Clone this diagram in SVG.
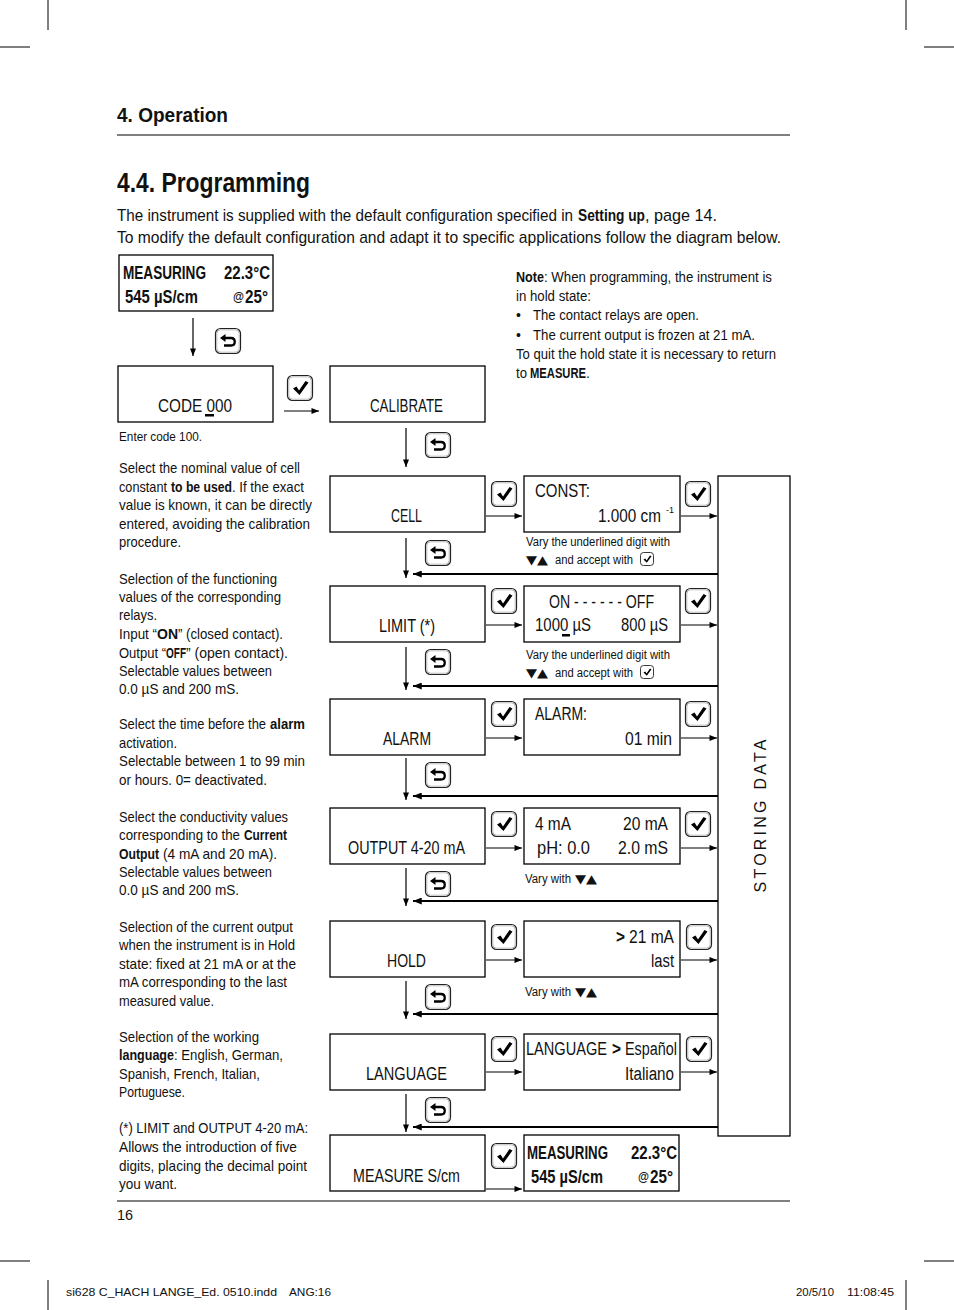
<svg xmlns="http://www.w3.org/2000/svg" xmlns:xlink="http://www.w3.org/1999/xlink" width="954" height="1310" viewBox="0 0 954 1310">
<style>
.f{font-family:"Liberation Sans",Arial,sans-serif;fill:#111}
.b{font-weight:bold}
.box{fill:#fff;stroke:#000;stroke-width:1.3}
.ln{stroke:#000;stroke-width:1.2;fill:none}
.ret{stroke:#000;stroke-width:2.2;fill:none}
.dot{stroke:#333;stroke-width:1;stroke-dasharray:1 2;fill:none}
.crop{stroke:#000;stroke-width:1}
.bt{font-size:18px}
.side{font-size:15px}
.cap{font-size:12.5px}
.tri{font-family:"DejaVu Sans",sans-serif;font-size:12px;fill:#111}
.ft{font-family:"Liberation Sans",Arial,sans-serif;font-size:11px;fill:#111}
</style>
<defs>
<marker id="ah" viewBox="0 0 10 8" refX="10" refY="4" markerWidth="8" markerHeight="6" markerUnits="userSpaceOnUse" orient="auto"><path d="M0,0 L10,4 L0,8 Z" fill="#000"/></marker>
<marker id="ahr" viewBox="0 0 10 8" refX="10" refY="4" markerWidth="9" markerHeight="7" markerUnits="userSpaceOnUse" orient="auto"><path d="M0,0 L10,4 L0,8 Z" fill="#000"/></marker>
<g id="chk">
<rect x="0.5" y="0.5" width="25" height="25" rx="5" fill="#fff" stroke="#222" stroke-width="1.2"/>
<rect x="1.8" y="1.8" width="22.4" height="22.4" rx="4" fill="none" stroke="#aaa" stroke-width="0.8"/>
<path d="M6,13.5 L9.5,11.5 L12,15.5 L18.5,6 L21.5,7.5 L12.5,20 Z" fill="#000"/>
</g>
<g id="bk">
<rect x="0.5" y="0.5" width="25" height="25" rx="5" fill="#fff" stroke="#222" stroke-width="1.2"/>
<rect x="1.8" y="1.8" width="22.4" height="22.4" rx="4" fill="none" stroke="#aaa" stroke-width="0.8"/>
<path d="M10,10 L16,10 C21,10 21,17.5 16,17.5 L9,17.5" fill="none" stroke="#000" stroke-width="2.3"/>
<path d="M5,10 L10.5,6 L10.5,14 Z" fill="#000"/>
</g>
<g id="chs">
<rect x="0.5" y="0.5" width="13" height="13" rx="3" fill="#fff" stroke="#222" stroke-width="0.9"/>
<path d="M3.5,7.5 L5.3,6.5 L6.6,8.6 L10,3.5 L11.5,4.3 L6.8,10.8 Z" fill="#000"/>
</g>
</defs>

<g id="cropmarks">
<line class="crop" x1="48" y1="0" x2="48" y2="30"/>
<line class="crop" x1="0" y1="47" x2="30" y2="47"/>
<line class="crop" x1="906" y1="0" x2="906" y2="30"/>
<line class="crop" x1="924" y1="47" x2="954" y2="47"/>
<line class="crop" x1="0" y1="1261" x2="30" y2="1261"/>
<line class="crop" x1="48" y1="1280" x2="48" y2="1310"/>
<line class="crop" x1="906" y1="1280" x2="906" y2="1310"/>
<line class="crop" x1="924" y1="1261" x2="954" y2="1261"/>
</g>

<g id="header">
<text class="f b" x="117" y="122" font-size="21" textLength="111" lengthAdjust="spacingAndGlyphs">4. Operation</text>
<line x1="117" y1="135" x2="790" y2="135" stroke="#000" stroke-width="1"/>
<text class="f b" x="117" y="192" font-size="27" textLength="193" lengthAdjust="spacingAndGlyphs">4.4. Programming</text>
<text class="f" x="117" y="221" font-size="17" textLength="456" lengthAdjust="spacingAndGlyphs">The instrument is supplied with the default configuration specified in</text>
<text class="f b" x="578" y="221" font-size="17" textLength="67" lengthAdjust="spacingAndGlyphs">Setting up</text>
<text class="f" x="645" y="221" font-size="17" textLength="72" lengthAdjust="spacingAndGlyphs">, page 14.</text>
<text class="f" x="117" y="243" font-size="17" textLength="664" lengthAdjust="spacingAndGlyphs">To modify the default configuration and adapt it to specific applications follow the diagram below.</text>
</g>

<g id="note" class="f" font-size="14">
<text class="b" x="516" y="282" textLength="28" lengthAdjust="spacingAndGlyphs">Note</text>
<text x="544" y="282" textLength="228" lengthAdjust="spacingAndGlyphs">: When programming, the instrument is</text>
<text x="516" y="301" textLength="75" lengthAdjust="spacingAndGlyphs">in hold state:</text>
<text x="516" y="320">•</text>
<text x="533" y="320" textLength="166" lengthAdjust="spacingAndGlyphs">The contact relays are open.</text>
<text x="516" y="340">•</text>
<text x="533" y="340" textLength="222" lengthAdjust="spacingAndGlyphs">The current output is frozen at 21 mA.</text>
<text x="516" y="359" textLength="260" lengthAdjust="spacingAndGlyphs">To quit the hold state it is necessary to return</text>
<text x="516" y="378" textLength="11" lengthAdjust="spacingAndGlyphs">to</text>
<text class="b" x="530" y="378" textLength="56" lengthAdjust="spacingAndGlyphs">MEASURE</text>
<text x="586" y="378">.</text>
</g>

<g id="connectors">
<line class="ln" x1="193" y1="318" x2="193" y2="356" marker-end="url(#ah)"/>
<line class="ln" x1="284" y1="411" x2="319" y2="411" marker-end="url(#ah)" stroke-width="1.6"/>
<line class="ln" x1="406" y1="428" x2="406" y2="467" marker-end="url(#ah)"/>
<line class="ln" x1="486" y1="516" x2="522" y2="516" marker-end="url(#ah)"/>
<line class="ln" x1="681" y1="516" x2="717" y2="516" marker-end="url(#ah)"/>
<path class="dot" d="M718,516 H727 V575 H718"/>
<line class="ret" x1="718" y1="574" x2="413" y2="574" marker-end="url(#ahr)" stroke-width="2.6"/>
<line class="ln" x1="406" y1="538" x2="406" y2="578" marker-end="url(#ah)"/>
<line class="ln" x1="486" y1="625" x2="522" y2="625" marker-end="url(#ah)"/>
<line class="ln" x1="681" y1="625" x2="717" y2="625" marker-end="url(#ah)"/>
<path class="dot" d="M718,625 H727 V687 H718"/>
<line class="ret" x1="718" y1="686" x2="413" y2="686" marker-end="url(#ahr)" stroke-width="1.8"/>
<line class="ln" x1="406" y1="647" x2="406" y2="690" marker-end="url(#ah)"/>
<line class="ln" x1="486" y1="738" x2="522" y2="738" marker-end="url(#ah)"/>
<line class="ln" x1="681" y1="738" x2="717" y2="738" marker-end="url(#ah)"/>
<path class="dot" d="M718,738 H727 V796 H718"/>
<line class="ret" x1="718" y1="796" x2="413" y2="796" marker-end="url(#ahr)"/>
<line class="ln" x1="406" y1="758" x2="406" y2="800" marker-end="url(#ah)"/>
<line class="ln" x1="486" y1="848" x2="522" y2="848" marker-end="url(#ah)"/>
<line class="ln" x1="681" y1="848" x2="717" y2="848" marker-end="url(#ah)"/>
<path class="dot" d="M718,848 H727 V901 H718"/>
<line class="ret" x1="718" y1="901" x2="413" y2="901" marker-end="url(#ahr)"/>
<line class="ln" x1="406" y1="868" x2="406" y2="906" marker-end="url(#ah)"/>
<line class="ln" x1="486" y1="960" x2="522" y2="960" marker-end="url(#ah)"/>
<line class="ln" x1="681" y1="960" x2="717" y2="960" marker-end="url(#ah)"/>
<path class="dot" d="M718,960 H727 V1014 H718"/>
<line class="ret" x1="718" y1="1014" x2="413" y2="1014" marker-end="url(#ahr)" stroke-width="1.8"/>
<line class="ln" x1="406" y1="981" x2="406" y2="1019" marker-end="url(#ah)"/>
<line class="ln" x1="486" y1="1072" x2="522" y2="1072" marker-end="url(#ah)"/>
<line class="ln" x1="681" y1="1072" x2="717" y2="1072" marker-end="url(#ah)"/>
<path class="dot" d="M718,1072 H727 V1127 H718"/>
<line class="ret" x1="718" y1="1127" x2="413" y2="1127" marker-end="url(#ahr)" stroke-width="1.6"/>
<line class="ln" x1="406" y1="1094" x2="406" y2="1132" marker-end="url(#ah)"/>
<line class="ln" x1="486" y1="1189" x2="522" y2="1189" marker-end="url(#ah)" stroke-width="2"/>
</g>

<g id="icons">
<use xlink:href="#bk" x="215" y="328"/>
<use xlink:href="#chk" x="287" y="375"/>
<use xlink:href="#bk" x="425" y="432"/>
<use xlink:href="#chk" x="491" y="481"/>
<use xlink:href="#chk" x="685" y="481"/>
<use xlink:href="#bk" x="425" y="540"/>
<use xlink:href="#chk" x="491" y="588"/>
<use xlink:href="#chk" x="685" y="588"/>
<use xlink:href="#bk" x="425" y="649"/>
<use xlink:href="#chk" x="491" y="701"/>
<use xlink:href="#chk" x="685" y="701"/>
<use xlink:href="#bk" x="425" y="762"/>
<use xlink:href="#chk" x="491" y="811"/>
<use xlink:href="#chk" x="685" y="811"/>
<use xlink:href="#bk" x="425" y="871"/>
<use xlink:href="#chk" x="491" y="924"/>
<use xlink:href="#chk" x="686" y="924"/>
<use xlink:href="#bk" x="425" y="984"/>
<use xlink:href="#chk" x="491" y="1036"/>
<use xlink:href="#chk" x="686" y="1036"/>
<use xlink:href="#bk" x="425" y="1097"/>
<use xlink:href="#chk" x="491" y="1143"/>
</g>

<g id="n-measuring-top">
<rect class="box" x="119" y="255" width="154" height="56"/>
<text class="f b" x="123" y="279" font-size="18" textLength="83" lengthAdjust="spacingAndGlyphs">MEASURING</text>
<text class="f b" x="224" y="279" font-size="18" textLength="46" lengthAdjust="spacingAndGlyphs">22.3°C</text>
<text class="f b" x="125" y="303" font-size="18" textLength="73" lengthAdjust="spacingAndGlyphs">545 µS/cm</text>
<text class="f b" x="233" y="301" font-size="12" textLength="11" lengthAdjust="spacingAndGlyphs">@</text>
<text class="f b" x="245" y="303" font-size="18" textLength="23" lengthAdjust="spacingAndGlyphs">25°</text>
</g>
<g id="n-code">
<rect class="box" x="118" y="366" width="155" height="56"/>
<text class="f bt" x="158" y="412" textLength="74" lengthAdjust="spacingAndGlyphs">CODE 000</text>
<rect x="205" y="414" width="9" height="2.5" fill="#000"/>
</g>
<text class="f" x="119" y="441" font-size="12.5" textLength="83" lengthAdjust="spacingAndGlyphs">Enter code 100.</text>
<g id="n-calibrate">
<rect class="box" x="330" y="366" width="155" height="56"/>
<text class="f bt" x="370" y="412" textLength="73" lengthAdjust="spacingAndGlyphs">CALIBRATE</text>
</g>
<g id="n-cell">
<rect class="box" x="330" y="476" width="155" height="56"/>
<text class="f bt" x="391" y="522" textLength="31" lengthAdjust="spacingAndGlyphs">CELL</text>
</g>
<g id="n-const">
<rect class="box" x="524" y="476" width="156" height="56"/>
<text class="f bt" x="535" y="497" textLength="55" lengthAdjust="spacingAndGlyphs">CONST:</text>
<text class="f bt" x="598" y="522" textLength="63" lengthAdjust="spacingAndGlyphs">1.000 cm</text>
<text class="f" x="666" y="513" font-size="9" textLength="8" lengthAdjust="spacingAndGlyphs">-1</text>
</g>
<g id="cap-const" class="f cap">
<text x="526" y="546" textLength="144" lengthAdjust="spacingAndGlyphs">Vary the underlined digit with</text>
<text class="tri" x="526" y="564" textLength="22" lengthAdjust="spacingAndGlyphs">▼▲</text>
<text x="555" y="564" textLength="78" lengthAdjust="spacingAndGlyphs">and accept with</text>
<use xlink:href="#chs" x="640" y="552"/>
</g>
<g id="n-limit">
<rect class="box" x="330" y="586" width="155" height="56"/>
<text class="f bt" x="379" y="632" textLength="56" lengthAdjust="spacingAndGlyphs">LIMIT (*)</text>
</g>
<g id="n-onoff">
<rect class="box" x="524" y="586" width="156" height="56"/>
<text class="f bt" x="549" y="608" textLength="105" lengthAdjust="spacingAndGlyphs">ON - - - - - - OFF</text>
<text class="f bt" x="535" y="631" textLength="56" lengthAdjust="spacingAndGlyphs">1000 µS</text>
<rect x="562" y="634" width="8" height="2.5" fill="#000"/>
<text class="f bt" x="621" y="631" textLength="47" lengthAdjust="spacingAndGlyphs">800 µS</text>
</g>
<g id="cap-limit" class="f cap">
<text x="526" y="659" textLength="144" lengthAdjust="spacingAndGlyphs">Vary the underlined digit with</text>
<text class="tri" x="526" y="677" textLength="22" lengthAdjust="spacingAndGlyphs">▼▲</text>
<text x="555" y="677" textLength="78" lengthAdjust="spacingAndGlyphs">and accept with</text>
<use xlink:href="#chs" x="640" y="665"/>
</g>
<g id="n-alarm">
<rect class="box" x="330" y="699" width="155" height="56"/>
<text class="f bt" x="383" y="745" textLength="48" lengthAdjust="spacingAndGlyphs">ALARM</text>
</g>
<g id="n-alarmval">
<rect class="box" x="524" y="699" width="156" height="56"/>
<text class="f bt" x="535" y="720" textLength="52" lengthAdjust="spacingAndGlyphs">ALARM:</text>
<text class="f bt" x="625" y="745" textLength="47" lengthAdjust="spacingAndGlyphs">01 min</text>
</g>
<g id="n-output">
<rect class="box" x="330" y="808" width="155" height="56"/>
<text class="f bt" x="348" y="854" textLength="117" lengthAdjust="spacingAndGlyphs">OUTPUT 4-20 mA</text>
</g>
<g id="n-outval">
<rect class="box" x="524" y="808" width="156" height="56"/>
<text class="f bt" x="535" y="830" textLength="36" lengthAdjust="spacingAndGlyphs">4 mA</text>
<text class="f bt" x="623" y="830" textLength="45" lengthAdjust="spacingAndGlyphs">20 mA</text>
<text class="f bt" x="537" y="854" textLength="53" lengthAdjust="spacingAndGlyphs">pH: 0.0</text>
<text class="f bt" x="618" y="854" textLength="50" lengthAdjust="spacingAndGlyphs">2.0 mS</text>
</g>
<g id="cap-output">
<text class="f cap" x="525" y="883" textLength="46" lengthAdjust="spacingAndGlyphs">Vary with</text>
<text class="tri" x="575" y="883" textLength="22" lengthAdjust="spacingAndGlyphs">▼▲</text>
</g>
<g id="n-hold">
<rect class="box" x="330" y="921" width="155" height="56"/>
<text class="f bt" x="387" y="967" textLength="39" lengthAdjust="spacingAndGlyphs">HOLD</text>
</g>
<g id="n-holdval">
<rect class="box" x="524" y="921" width="156" height="56"/>
<text class="f bt b" x="616" y="943" textLength="9" lengthAdjust="spacingAndGlyphs">&gt;</text>
<text class="f bt" x="629" y="943" textLength="45" lengthAdjust="spacingAndGlyphs">21 mA</text>
<text class="f bt" x="651" y="967" textLength="23" lengthAdjust="spacingAndGlyphs">last</text>
</g>
<g id="cap-hold">
<text class="f cap" x="525" y="996" textLength="46" lengthAdjust="spacingAndGlyphs">Vary with</text>
<text class="tri" x="575" y="996" textLength="22" lengthAdjust="spacingAndGlyphs">▼▲</text>
</g>
<g id="n-language">
<rect class="box" x="330" y="1034" width="155" height="56"/>
<text class="f bt" x="366" y="1080" textLength="81" lengthAdjust="spacingAndGlyphs">LANGUAGE</text>
</g>
<g id="n-langval">
<rect class="box" x="524" y="1034" width="156" height="56"/>
<text class="f bt" x="526" y="1055" textLength="81" lengthAdjust="spacingAndGlyphs">LANGUAGE</text>
<text class="f bt b" x="612" y="1055" textLength="9" lengthAdjust="spacingAndGlyphs">&gt;</text>
<text class="f bt" x="625" y="1055" textLength="52" lengthAdjust="spacingAndGlyphs">Español</text>
<text class="f bt" x="625" y="1080" textLength="49" lengthAdjust="spacingAndGlyphs">Italiano</text>
</g>
<g id="n-measure">
<rect class="box" x="330" y="1135" width="155" height="56"/>
<text class="f bt" x="353" y="1182" textLength="107" lengthAdjust="spacingAndGlyphs">MEASURE S/cm</text>
</g>
<g id="n-measuring-bottom">
<rect class="box" x="524" y="1135" width="155" height="56"/>
<text class="f b" x="527" y="1159" font-size="18" textLength="81" lengthAdjust="spacingAndGlyphs">MEASURING</text>
<text class="f b" x="631" y="1159" font-size="18" textLength="46" lengthAdjust="spacingAndGlyphs">22.3°C</text>
<text class="f b" x="531" y="1183" font-size="18" textLength="72" lengthAdjust="spacingAndGlyphs">545 µS/cm</text>
<text class="f b" x="638" y="1181" font-size="12" textLength="11" lengthAdjust="spacingAndGlyphs">@</text>
<text class="f b" x="650" y="1183" font-size="18" textLength="23" lengthAdjust="spacingAndGlyphs">25°</text>
</g>
<g id="n-storing">
<rect class="box" x="718" y="476" width="72" height="660" fill="none"/>
<text class="f" x="0" y="0" font-size="16" text-anchor="middle" transform="translate(766,816) rotate(-90)" textLength="153" lengthAdjust="spacing">STORING DATA</text>
</g>

<g id="desc" class="f side">
<text x="119" y="473" textLength="181" lengthAdjust="spacingAndGlyphs">Select the nominal value of cell</text>
<text x="119" y="492" textLength="48" lengthAdjust="spacingAndGlyphs">constant</text>
<text class="b" x="171" y="492" textLength="61" lengthAdjust="spacingAndGlyphs">to be used</text>
<text x="232" y="492" textLength="72" lengthAdjust="spacingAndGlyphs">. If the exact</text>
<text x="119" y="510" textLength="193" lengthAdjust="spacingAndGlyphs">value is known, it can be directly</text>
<text x="119" y="529" textLength="191" lengthAdjust="spacingAndGlyphs">entered, avoiding the calibration</text>
<text x="119" y="547" textLength="62" lengthAdjust="spacingAndGlyphs">procedure.</text>
<text x="119" y="584" textLength="158" lengthAdjust="spacingAndGlyphs">Selection of the functioning</text>
<text x="119" y="602" textLength="162" lengthAdjust="spacingAndGlyphs">values of the corresponding</text>
<text x="119" y="620" textLength="38" lengthAdjust="spacingAndGlyphs">relays.</text>
<text x="119" y="639" textLength="38" lengthAdjust="spacingAndGlyphs">Input “</text>
<text class="b" x="157" y="639" textLength="21" lengthAdjust="spacingAndGlyphs">ON</text>
<text x="178" y="639" textLength="105" lengthAdjust="spacingAndGlyphs">” (closed contact).</text>
<text x="119" y="658" textLength="47" lengthAdjust="spacingAndGlyphs">Output “</text>
<text class="b" x="166" y="658" textLength="20" lengthAdjust="spacingAndGlyphs">OFF</text>
<text x="186" y="658" textLength="102" lengthAdjust="spacingAndGlyphs">” (open contact).</text>
<text x="119" y="676" textLength="153" lengthAdjust="spacingAndGlyphs">Selectable values between</text>
<text x="119" y="694" textLength="120" lengthAdjust="spacingAndGlyphs">0.0 µS and 200 mS.</text>
<text x="119" y="729" textLength="147" lengthAdjust="spacingAndGlyphs">Select the time before the</text>
<text class="b" x="270" y="729" textLength="35" lengthAdjust="spacingAndGlyphs">alarm</text>
<text x="119" y="748" textLength="58" lengthAdjust="spacingAndGlyphs">activation.</text>
<text x="119" y="766" textLength="186" lengthAdjust="spacingAndGlyphs">Selectable between 1 to 99 min</text>
<text x="119" y="785" textLength="148" lengthAdjust="spacingAndGlyphs">or hours. 0= deactivated.</text>
<text x="119" y="822" textLength="169" lengthAdjust="spacingAndGlyphs">Select the conductivity values</text>
<text x="119" y="840" textLength="121" lengthAdjust="spacingAndGlyphs">corresponding to the</text>
<text class="b" x="244" y="840" textLength="43" lengthAdjust="spacingAndGlyphs">Current</text>
<text class="b" x="119" y="859" textLength="40" lengthAdjust="spacingAndGlyphs">Output</text>
<text x="163" y="859" textLength="114" lengthAdjust="spacingAndGlyphs">(4 mA and 20 mA).</text>
<text x="119" y="877" textLength="153" lengthAdjust="spacingAndGlyphs">Selectable values between</text>
<text x="119" y="895" textLength="120" lengthAdjust="spacingAndGlyphs">0.0 µS and 200 mS.</text>
<text x="119" y="932" textLength="174" lengthAdjust="spacingAndGlyphs">Selection of the current output</text>
<text x="119" y="950" textLength="176" lengthAdjust="spacingAndGlyphs">when the instrument is in Hold</text>
<text x="119" y="969" textLength="177" lengthAdjust="spacingAndGlyphs">state: fixed at 21 mA or at the</text>
<text x="119" y="987" textLength="168" lengthAdjust="spacingAndGlyphs">mA corresponding to the last</text>
<text x="119" y="1006" textLength="95" lengthAdjust="spacingAndGlyphs">measured value.</text>
<text x="119" y="1042" textLength="140" lengthAdjust="spacingAndGlyphs">Selection of the working</text>
<text class="b" x="119" y="1060" textLength="55" lengthAdjust="spacingAndGlyphs">language</text>
<text x="174" y="1060" textLength="109" lengthAdjust="spacingAndGlyphs">: English, German,</text>
<text x="119" y="1079" textLength="141" lengthAdjust="spacingAndGlyphs">Spanish, French, Italian,</text>
<text x="119" y="1097" textLength="66" lengthAdjust="spacingAndGlyphs">Portuguese.</text>
<text x="119" y="1133" textLength="189" lengthAdjust="spacingAndGlyphs">(*) LIMIT and OUTPUT 4-20 mA:</text>
<text x="119" y="1152" textLength="178" lengthAdjust="spacingAndGlyphs">Allows the introduction of five</text>
<text x="119" y="1171" textLength="188" lengthAdjust="spacingAndGlyphs">digits, placing the decimal point</text>
<text x="119" y="1189" textLength="58" lengthAdjust="spacingAndGlyphs">you want.</text>
</g>

<g id="footer">
<line x1="117" y1="1201" x2="790" y2="1201" stroke="#000" stroke-width="1"/>
<text class="f" x="117" y="1220" font-size="15" textLength="16" lengthAdjust="spacingAndGlyphs">16</text>
<text class="ft" x="66" y="1296" textLength="211" lengthAdjust="spacingAndGlyphs">si628 C_HACH LANGE_Ed. 0510.indd</text>
<text class="ft" x="289" y="1296" textLength="42" lengthAdjust="spacingAndGlyphs">ANG:16</text>
<text class="ft" x="796" y="1296" textLength="38" lengthAdjust="spacingAndGlyphs">20/5/10</text>
<text class="ft" x="847" y="1296" textLength="47" lengthAdjust="spacingAndGlyphs">11:08:45</text>
</g>
</svg>
